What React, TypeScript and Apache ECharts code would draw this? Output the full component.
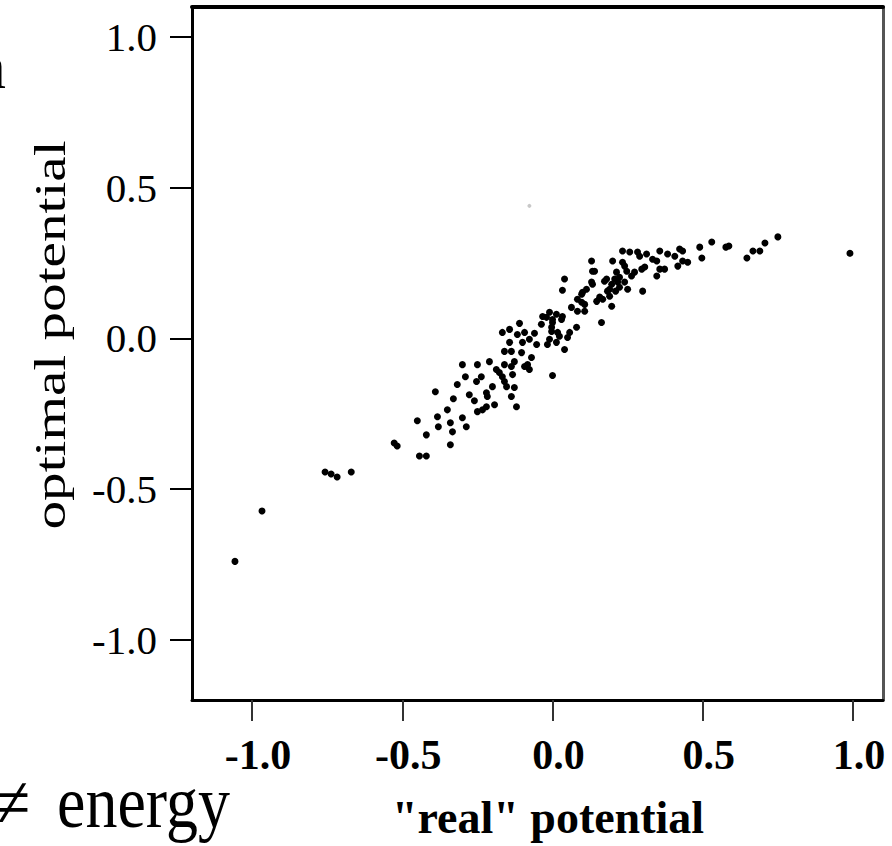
import React, { useEffect, useRef } from "react";
import * as echarts from "echarts";

const xTicks = [-1.0, -0.5, 0.0, 0.5, 1.0];
const yTicks = [-1.0, -0.5, 0.0, 0.5, 1.0];
const xName = '"real" potential';
const yName = "optimal potential";
const sideTop = "n";
const sideNe = "≠";
const sideEnergy = "energy";

// ["real" potential, optimal potential]
const points: [number, number][] = [
  [-1.057, -0.74], [-0.967, -0.573], [-0.757, -0.443], [-0.737, -0.45], [-0.717, -0.46],
  [-0.67, -0.443], [-0.527, -0.347], [-0.517, -0.357], [-0.45, -0.273], [-0.42, -0.32],
  [-0.443, -0.39], [-0.42, -0.39], [-0.39, -0.177], [-0.383, -0.26], [-0.38, -0.293],
  [-0.35, -0.237], [-0.34, -0.28], [-0.333, -0.31], [-0.34, -0.353], [-0.33, -0.2],
  [-0.317, -0.153], [-0.3, -0.263], [-0.287, -0.293], [-0.3, -0.087], [-0.29, -0.127],
  [-0.277, -0.187], [-0.26, -0.207], [-0.253, -0.143], [-0.25, -0.087], [-0.25, -0.243],
  [-0.237, -0.127], [-0.22, -0.18], [-0.217, -0.193], [-0.22, -0.227], [-0.233, -0.237],
  [-0.21, -0.077], [-0.2, -0.16], [-0.193, -0.22], [-0.187, -0.103], [-0.177, -0.113],
  [-0.167, -0.127], [-0.16, -0.143], [-0.153, -0.16], [-0.167, 0.02], [-0.16, -0.043],
  [-0.16, -0.087], [-0.143, -0.013], [-0.143, 0.03], [-0.137, -0.043], [-0.137, -0.093],
  [-0.133, -0.12], [-0.137, -0.193], [-0.127, -0.163], [-0.12, -0.227], [-0.127, -0.077],
  [-0.117, 0.013], [-0.11, 0.05], [-0.103, -0.047], [-0.1, -0.013], [-0.093, 0.02],
  [-0.093, -0.093], [-0.083, -0.087], [-0.077, -0.103], [-0.07, -0.063], [-0.077, -0.003],
  [-0.06, 0.017], [-0.053, -0.02], [-0.037, 0.047], [-0.033, 0.073], [-0.02, 0.07],
  [-0.017, -0.02], [-0.01, -0.003], [-0.003, 0.023], [0.0, -0.123], [0.0, 0.053],
  [0.013, 0.08], [0.017, 0.02], [0.023, 0.007], [0.03, 0.063], [0.04, -0.037],
  [0.04, 0.197], [0.033, 0.16], [0.05, 0.003], [0.057, 0.02], [0.063, 0.103],
  [0.08, 0.037], [0.083, 0.09], [0.083, 0.13], [0.097, 0.12], [0.1, 0.153],
  [0.107, 0.09], [0.113, 0.163], [0.13, 0.257], [0.133, 0.223], [0.133, 0.18],
  [0.147, 0.123], [0.163, 0.053], [0.167, 0.13], [0.18, 0.197], [0.19, 0.14],
  [0.197, 0.107], [0.2, 0.257], [0.207, 0.197], [0.213, 0.22], [0.223, 0.203],
  [0.233, 0.29], [0.233, 0.253], [0.24, 0.187], [0.247, 0.223], [-0.01, 0.087],
  [0.0, 0.063], [-0.003, 0.037], [0.013, -0.013], [0.033, 0.073], [0.097, 0.147],
  [0.107, 0.113], [0.13, 0.187], [0.14, 0.223], [0.157, 0.137], [0.173, 0.19],
  [0.19, 0.163], [0.217, 0.187], [0.24, 0.24], [0.25, 0.163], [0.257, 0.287],
  [0.263, 0.207], [0.273, 0.22], [0.283, 0.287], [0.29, 0.273], [0.297, 0.23],
  [0.3, 0.157], [0.307, 0.237], [0.313, 0.28], [0.333, 0.263], [0.347, 0.257],
  [0.347, 0.207], [0.357, 0.29], [0.357, 0.23], [0.373, 0.23], [0.383, 0.28],
  [0.407, 0.273], [0.417, 0.24], [0.423, 0.297], [0.433, 0.29], [0.433, 0.257],
  [0.45, 0.253], [0.49, 0.303], [0.497, 0.267], [0.53, 0.32], [0.577, 0.303],
  [0.587, 0.307], [0.647, 0.267], [0.667, 0.29], [0.69, 0.29], [0.707, 0.317],
  [0.75, 0.337], [0.99, 0.283], [0.197, 0.18], [0.223, 0.17], [0.21, 0.157],
  [0.183, 0.157],
];

const faintPoints: [number, number][] = [[-0.077, 0.44]];

const SERIF = "'Liberation Serif', 'Times New Roman', serif";

export default function App() {
  const ref = useRef<HTMLDivElement>(null);
  useEffect(() => {
    const chart = echarts.init(ref.current!, null, { renderer: "svg" });
    const fmt = (v: number) => v.toFixed(1);
    chart.setOption({
      animation: false,
      backgroundColor: "#ffffff",
      grid: { left: 192, right: 9, top: 7, bottom: 146 },
      xAxis: [
        {
          type: "value", min: -1.2, max: 1.1, position: "bottom",
          axisLine: { show: true, onZero: false, lineStyle: { color: "#000", width: 3 } },
          axisTick: { show: true, customValues: xTicks, length: 21, lineStyle: { color: "#333", width: 2 } },
          axisLabel: {
            customValues: xTicks, formatter: fmt, fontFamily: SERIF, fontSize: 42,
            fontWeight: "bold", color: "#000", margin: 34, padding: [0, 0, 0, 12],
          },
          splitLine: { show: false },
        },
        {
          type: "value", min: -1.2, max: 1.1, position: "top",
          axisLine: { show: true, onZero: false, lineStyle: { color: "#000", width: 4 } },
          axisTick: { show: false }, axisLabel: { show: false }, splitLine: { show: false },
        },
      ],
      yAxis: [
        {
          type: "value", min: -1.2, max: 1.1, position: "left",
          axisLine: { show: true, onZero: false, lineStyle: { color: "#000", width: 3 } },
          axisTick: { show: true, customValues: yTicks, length: 22, lineStyle: { color: "#000", width: 2 } },
          axisLabel: {
            customValues: yTicks, formatter: fmt, fontFamily: SERIF, fontSize: 41,
            color: "#000", margin: 35,
          },
          splitLine: { show: false },
        },
        {
          type: "value", min: -1.2, max: 1.1, position: "right",
          axisLine: { show: true, onZero: false, lineStyle: { color: "#555", width: 3 } },
          axisTick: { show: false }, axisLabel: { show: false }, splitLine: { show: false },
        },
      ],
      graphic: [
        {
          type: "text", x: 50, y: 335, rotation: Math.PI / 2, scaleX: 1.3,
          style: {
            text: yName, fontFamily: SERIF, fontSize: 44, fill: "#000",
            align: "center", verticalAlign: "middle", textAlign: "center", textVerticalAlign: "middle",
          },
        },
        {
          type: "text", x: 548, y: 817,
          style: {
            text: xName, fontFamily: SERIF, fontSize: 46, fontWeight: "bold", fill: "#000",
            align: "center", verticalAlign: "middle", textAlign: "center", textVerticalAlign: "middle",
          },
        },
        {
          type: "text", x: 6, y: 66,
          style: {
            text: sideTop, fontFamily: SERIF, fontSize: 64, fill: "#000",
            align: "right", verticalAlign: "middle", textAlign: "right", textVerticalAlign: "middle",
          },
        },
        {
          type: "text", x: 30, y: 802, scaleY: 1.15,
          style: {
            text: sideNe, fontFamily: SERIF, fontSize: 64, fill: "#000",
            align: "right", verticalAlign: "middle", textAlign: "right", textVerticalAlign: "middle",
          },
        },
        {
          type: "text", x: 57, y: 802, scaleY: 1.15,
          style: {
            text: sideEnergy, fontFamily: SERIF, fontSize: 64, fill: "#000",
            align: "left", verticalAlign: "middle", textAlign: "left", textVerticalAlign: "middle",
          },
        },
      ],
      series: [
        {
          type: "scatter", xAxisIndex: 0, yAxisIndex: 0, data: points,
          symbol: "circle", symbolSize: 7, itemStyle: { color: "#000", opacity: 1 },
        },
        {
          type: "scatter", xAxisIndex: 0, yAxisIndex: 0, data: faintPoints,
          symbol: "circle", symbolSize: 4, itemStyle: { color: "#c8c8c8", opacity: 1 },
        },
      ],
    });
    return () => chart.dispose();
  }, []);
  return (
    <div
      ref={ref}
      style={{ position: "fixed", left: 0, top: 0, width: 892, height: 846 }}
    />
  );
}
